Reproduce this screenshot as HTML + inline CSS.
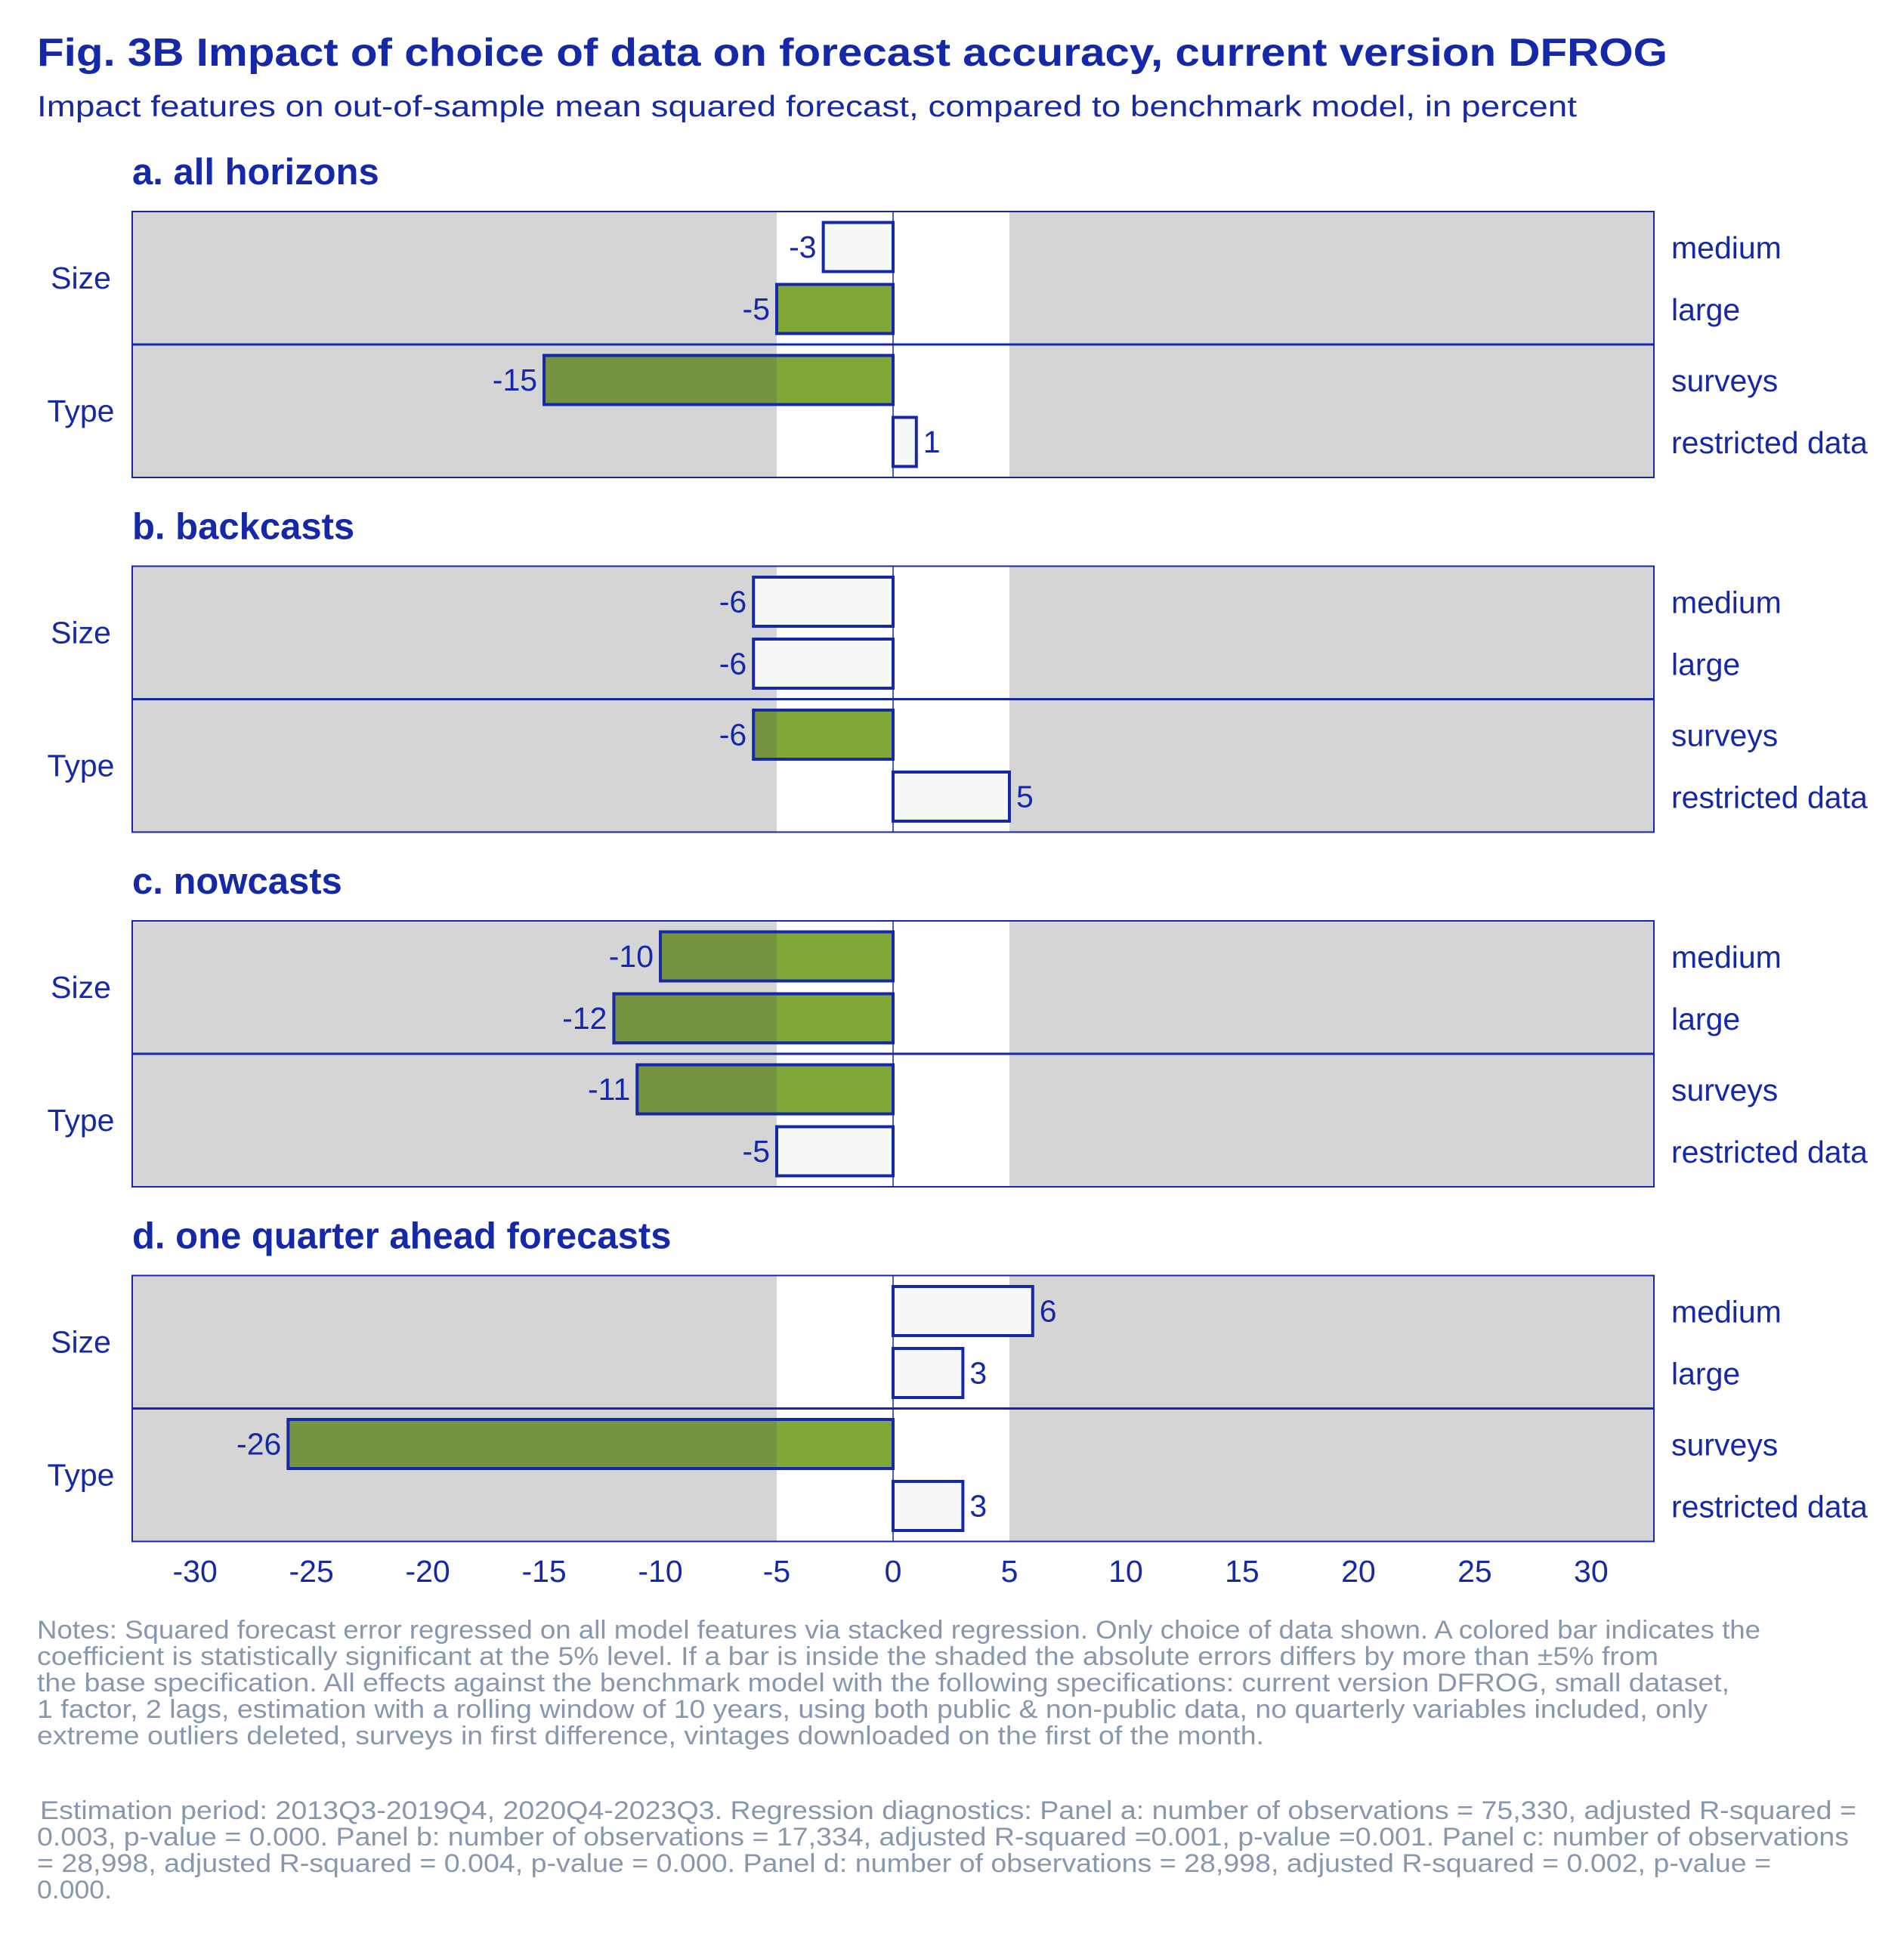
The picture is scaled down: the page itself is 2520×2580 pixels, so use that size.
<!DOCTYPE html>
<html><head><meta charset="utf-8"><style>
html,body{margin:0;padding:0;background:#fff;}
svg{display:block;font-family:"Liberation Sans",Arial,sans-serif;}
</style></head><body>
<svg id="chart" width="2520" height="2580" viewBox="0 0 2520 2580" xmlns="http://www.w3.org/2000/svg">
<text x="49" y="87" font-size="52" font-weight="bold" fill="#1428a8" textLength="2158" lengthAdjust="spacingAndGlyphs">Fig. 3B Impact of choice of data on forecast accuracy, current version DFROG</text>
<text x="49" y="154" font-size="39" fill="#1428a8" textLength="2038" lengthAdjust="spacingAndGlyphs">Impact features on out-of-sample mean squared forecast, compared to benchmark model, in percent</text>
<g id="panels"></g>
<g id="xaxis"></g>
<g font-size="34" fill="#8797ad">
<text x="49" y="2169" textLength="2281" lengthAdjust="spacingAndGlyphs">Notes: Squared forecast error regressed on all model features via stacked regression. Only choice of data shown. A colored bar indicates the</text>
<text x="49" y="2204" textLength="2146" lengthAdjust="spacingAndGlyphs">coefficient is statistically significant at the 5% level. If a bar is inside the shaded the absolute errors differs by more than ±5% from</text>
<text x="49" y="2239" textLength="2240" lengthAdjust="spacingAndGlyphs">the base specification. All effects against the benchmark model with the following specifications: current version DFROG, small dataset,</text>
<text x="49" y="2274" textLength="2211" lengthAdjust="spacingAndGlyphs">1 factor, 2 lags, estimation with a rolling window of 10 years, using both public &amp; non-public data, no quarterly variables included, only</text>
<text x="49" y="2309" textLength="1624" lengthAdjust="spacingAndGlyphs">extreme outliers deleted, surveys in first difference, vintages downloaded on the first of the month.</text>
<text x="53" y="2408" textLength="2404" lengthAdjust="spacingAndGlyphs">Estimation period: 2013Q3-2019Q4, 2020Q4-2023Q3. Regression diagnostics: Panel a: number of observations = 75,330, adjusted R-squared =</text>
<text x="49" y="2443" textLength="2398" lengthAdjust="spacingAndGlyphs">0.003, p-value = 0.000. Panel b: number of observations = 17,334, adjusted R-squared =0.001, p-value =0.001. Panel c: number of observations</text>
<text x="49" y="2478" textLength="2295" lengthAdjust="spacingAndGlyphs">= 28,998, adjusted R-squared = 0.004, p-value = 0.000. Panel d: number of observations = 28,998, adjusted R-squared = 0.002, p-value =</text>
<text x="49" y="2513" textLength="99" lengthAdjust="spacingAndGlyphs">0.000.</text>
</g>
</svg>
<script>
const panelTitles = ["a. all horizons","b. backcasts","c. nowcasts","d. one quarter ahead forecasts"];
const panelKeys = ["all-horizons","backcasts","nowcasts","one-quarter-ahead"];
const categories = ["medium","large","surveys","restricted data"];
const groups = ["Size","Type"];
const valuesA = [-3,-5,-15,1];
const valuesB = [-6,-6,-6,5];
const valuesC = [-10,-12,-11,-5];
const valuesD = [6,3,-26,3];
const sigA = [false,true,true,false];
const sigB = [false,false,true,false];
const sigC = [true,true,true,false];
const sigD = [false,false,true,false];
const xTicks = [-30,-25,-20,-15,-10,-5,0,5,10,15,20,25,30];
const xDomain = [-32.7,32.7];
const shadeLimit = 5;

const allValues=[valuesA,valuesB,valuesC,valuesD];
const allSig=[sigA,sigB,sigC,sigD];
const NS="http://www.w3.org/2000/svg";
const L=175,R=2189;
const x=v=>L+(v-xDomain[0])/(xDomain[1]-xDomain[0])*(R-L);
const BLUE="#1428a8";
const FS=41;
function mk(tag,attrs,parent){const e=document.createElementNS(NS,tag);for(const k in attrs)e.setAttribute(k,attrs[k]);parent.appendChild(e);return e;}
const panelsG=document.getElementById('panels');
panelTitles.forEach((t,p)=>{
  const top=280+p*469.5, H=352, bottom=top+H, mid=top+H/2;
  const g=mk('g',{},panelsG);
  
  
  const tt=mk('text',{x:175,y:top-36,'font-size':49,'font-weight':'bold',fill:BLUE},g);
  tt.textContent=t;
  
  
  const bg=mk('rect',{x:L,y:top,width:R-L,height:H,fill:'#d5d5d5'},g);
  
  
  const band=mk('rect',{x:x(-shadeLimit),y:top,width:x(shadeLimit)-x(-shadeLimit),height:H,fill:'#fff'},g);
  
  
  const zl=mk('line',{x1:x(0),x2:x(0),y1:top,y2:bottom,stroke:BLUE,'stroke-width':1.5},g);
  
  
  const half=H/2, bh=65;
  allValues[p].forEach((v,i)=>{
    const gi=Math.floor(i/2);
    const cy=top+half*gi+half/2+(i%2===0?-41:41);
    const sig=allSig[p][i];
    const x0=Math.min(x(0),x(v)), w=Math.abs(x(v)-x(0));
    const bar=mk('rect',{x:x0,y:cy-bh/2,width:w,height:bh,fill:sig?'#80a839':'#f7f9f7'},g);
    
    
    if(sig){
      const lo=Math.min(0,v), hi=Math.max(0,v);
      if(lo<-shadeLimit){const d=mk('rect',{x:x(lo),y:cy-bh/2,width:x(-shadeLimit)-x(lo),height:bh,fill:'#76943f'},g);
        }
      if(hi>shadeLimit){const d=mk('rect',{x:x(shadeLimit),y:cy-bh/2,width:x(hi)-x(shadeLimit),height:bh,fill:'#76943f'},g);
        }
    }
    mk('rect',{x:x0,y:cy-bh/2,width:w,height:bh,fill:'none',stroke:BLUE,'stroke-width':4},g);
    const lab=mk('text',{x:v<0?x(v)-9:x(v)+9,y:cy+14,'font-size':FS,fill:BLUE,'text-anchor':v<0?'end':'start'},g);
    lab.textContent=String(v);
    
    
    const cl=mk('text',{x:2212,y:cy+15,'font-size':FS,fill:BLUE},g);
    cl.textContent=categories[i];
    
    
  });
  const sep=mk('line',{x1:L,x2:R,y1:mid,y2:mid,stroke:BLUE,'stroke-width':3},g);
  
  
  const fr=mk('rect',{x:L,y:top,width:R-L,height:H,fill:'none',stroke:BLUE,'stroke-width':2},g);
  
  
  groups.forEach((gname,gi)=>{
    const gl=mk('text',{x:107,y:top+H/4*(1+2*gi)+14,'font-size':FS,fill:BLUE,'text-anchor':'middle'},g);
    gl.textContent=gname;
    
    
  });
});
const xa=document.getElementById('xaxis');


xTicks.forEach(t=>{
  const tl=mk('text',{x:x(t),y:2094,'font-size':FS,fill:BLUE,'text-anchor':'middle'},xa);
  tl.textContent=String(t);
  
  
});
</script>
</body></html>
